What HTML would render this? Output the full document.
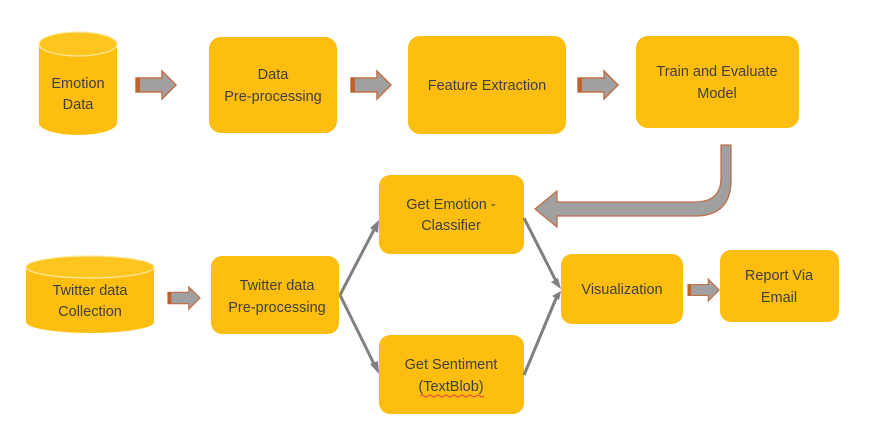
<!DOCTYPE html>
<html><head><meta charset="utf-8"><style>
html,body{margin:0;padding:0;background:#fff;width:880px;height:435px;overflow:hidden}
text{font-family:"Liberation Sans",Arial,sans-serif;font-size:14.5px;fill:#3f3f3f;text-anchor:middle}
</style></head><body>
<svg width="880" height="435" viewBox="0 0 880 435" xmlns="http://www.w3.org/2000/svg">
<defs>
<g id="blk"><path d="M0,-7 H26 V-14 L40,0 L26,14 V7 H0 Z" fill="#a0a0a0" stroke="#c0704a" stroke-width="1.5"/><rect x="0" y="-7" width="4" height="14" fill="#c0602a"/></g>
</defs>
<g fill="#fdbe0f">
<!-- Emotion Data cylinder -->
<path d="M39,44 V123 A39,12 0 0 0 117,123 V44 Z"/>
<ellipse cx="78" cy="44" rx="39" ry="12" fill="#fec51f" stroke="#ffe9a0" stroke-width="1.2"/>
<rect x="209" y="37" width="128" height="96" rx="12"/>
<rect x="408" y="36" width="158" height="98" rx="12"/>
<rect x="636" y="36" width="163" height="92" rx="12"/>
<rect x="379" y="175" width="145" height="79" rx="11"/>
<rect x="379" y="335" width="145" height="79" rx="11"/>
<!-- Twitter cylinder -->
<path d="M26,267 V322 A64,11 0 0 0 154,322 V267 Z"/>
<ellipse cx="90" cy="267" rx="64" ry="11" fill="#fec51f" stroke="#ffe9a0" stroke-width="1.2"/>
<rect x="211" y="256" width="128" height="78" rx="11"/>
<rect x="561" y="254" width="122" height="70" rx="11"/>
<rect x="720" y="250" width="119" height="72" rx="11"/>
</g>
<use href="#blk" transform="translate(136,85)"/>
<use href="#blk" transform="translate(351,85)"/>
<use href="#blk" transform="translate(578,85)"/>
<use href="#blk" transform="translate(168,298) scale(0.8)"/>
<use href="#blk" transform="translate(688,290) scale(0.78)"/>
<!-- U-turn arrow -->
<path d="M721,145 H731 V180 Q731,216 695,216 H557 V227 L535,209 L557,191 V202 H695 Q721,202 721,178 Z" fill="#a0a0a0" stroke="#c0704a" stroke-width="1.3"/>
<!-- connectors -->
<g stroke="#7f7f7f" stroke-width="3" fill="#7f7f7f">
<line x1="340" y1="295" x2="376" y2="226"/>
<line x1="340" y1="295" x2="376" y2="368"/>
<line x1="524" y1="218" x2="557" y2="283"/>
<line x1="524" y1="375" x2="557" y2="296"/>
</g>
<g fill="#7f7f7f">
<path d="M379,220 L378,233 L370,228 Z"/>
<path d="M379,374 L370,364 L378,361 Z"/>
<path d="M561,289 L551,282 L558,278 Z"/>
<path d="M561,291 L559,300 L552,296 Z"/>
</g>
<text x="78" y="88">Emotion</text><text x="78" y="109">Data</text>
<text x="273" y="79">Data</text><text x="273" y="101">Pre-processing</text>
<text x="487" y="90">Feature Extraction</text>
<text x="717" y="76">Train and Evaluate</text><text x="717" y="98">Model</text>
<text x="451" y="209">Get Emotion -</text><text x="451" y="230">Classifier</text>
<text x="451" y="369">Get Sentiment</text><text x="451" y="391">(TextBlob)</text>
<path d="M420,396 q2,-2 4,0 t4,0 t4,0 t4,0 t4,0 t4,0 t4,0 t4,0 t4,0 t4,0 t4,0 t4,0 t4,0 t4,0 t4,0 t4,0" stroke="#e04040" fill="none" stroke-width="1"/>
<text x="90" y="295">Twitter data</text><text x="90" y="316">Collection</text>
<text x="277" y="290">Twitter data</text><text x="277" y="312">Pre-processing</text>
<text x="622" y="294">Visualization</text>
<text x="779" y="280">Report Via</text><text x="779" y="302">Email</text>
</svg>
</body></html>
